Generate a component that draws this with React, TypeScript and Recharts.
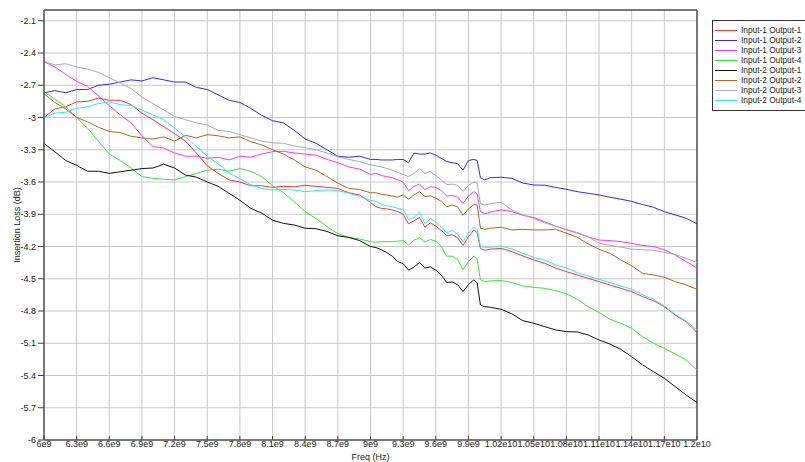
import React from 'react';
import { LineChart, Line, XAxis, YAxis, CartesianGrid, ReferenceLine, Legend } from 'recharts';

const FONT = '"Liberation Sans", Arial, Helvetica, sans-serif';

// Frequency points in GHz (values shown on the axis as Hz)
const freqGHz = [
  6.0, 6.1, 6.2, 6.3, 6.4, 6.5, 6.6, 6.7, 6.8, 6.9, 7.0, 7.1, 7.2, 7.3, 7.4, 7.5, 7.6, 7.7, 7.8, 7.9,
  8.0, 8.1, 8.2, 8.3, 8.4, 8.5, 8.6, 8.7, 8.8, 8.9, 9.0,
  9.05, 9.1, 9.15, 9.2, 9.25, 9.3, 9.35, 9.4, 9.45, 9.5, 9.55, 9.6, 9.65, 9.7, 9.75, 9.8, 9.85, 9.9,
  9.95, 9.98, 10.01, 10.05,
  10.1, 10.2, 10.3, 10.4, 10.5, 10.6, 10.7, 10.8, 10.9, 11.0, 11.1, 11.2, 11.3, 11.4, 11.5, 11.6, 11.7,
  11.8, 11.9, 12.0,
];

const in1out1 = [
  -3.0, -2.92, -2.9, -2.855, -2.85, -2.82, -2.84, -2.84, -2.88, -2.96, -3.02, -3.085, -3.15, -3.22, -3.33, -3.45,
  -3.52, -3.58, -3.6, -3.635, -3.635, -3.65, -3.64, -3.645, -3.63, -3.64, -3.65, -3.66, -3.7, -3.72, -3.79,
  -3.83, -3.845, -3.85, -3.86, -3.875, -3.9, -3.99, -3.96, -3.93, -4.02, -3.98, -4.01, -4.05, -4.1, -4.09, -4.12,
  -4.19, -4.11, -4.045, -4.07, -4.22, -4.235,
  -4.225, -4.217, -4.248, -4.288, -4.325, -4.356, -4.4, -4.434, -4.465, -4.496, -4.527, -4.558, -4.589, -4.62,
  -4.666, -4.704, -4.76, -4.837, -4.9, -5.0,
];

const in1out2 = [
  -2.77, -2.75, -2.77, -2.74, -2.74, -2.7, -2.69, -2.67, -2.65, -2.66, -2.63, -2.65, -2.67, -2.67, -2.72, -2.74,
  -2.79, -2.84, -2.86, -2.915, -2.98, -3.03, -3.05, -3.12, -3.2, -3.24, -3.3, -3.36, -3.37, -3.36, -3.39,
  -3.39, -3.395, -3.395, -3.395, -3.39, -3.39, -3.42, -3.33, -3.34, -3.34, -3.33, -3.35, -3.38, -3.41, -3.42, -3.43,
  -3.49, -3.4, -3.39, -3.4, -3.56, -3.58,
  -3.56, -3.556, -3.566, -3.61, -3.628, -3.63, -3.65, -3.668, -3.69, -3.705, -3.72, -3.742, -3.76, -3.78,
  -3.81, -3.835, -3.876, -3.906, -3.937, -3.99,
];

const in1out3 = [
  -2.48, -2.53, -2.6, -2.665, -2.71, -2.8, -2.89, -2.975, -3.05, -3.17, -3.27, -3.285, -3.33, -3.36, -3.36, -3.38,
  -3.37, -3.395, -3.36, -3.37, -3.34, -3.318, -3.315, -3.33, -3.34, -3.35, -3.39, -3.42, -3.46, -3.48, -3.53,
  -3.52, -3.54, -3.55, -3.56, -3.58, -3.6, -3.68, -3.64, -3.62, -3.67, -3.645, -3.65, -3.68, -3.73, -3.725, -3.74,
  -3.8, -3.73, -3.69, -3.71, -3.875, -3.895,
  -3.88, -3.86, -3.875, -3.91, -3.93, -3.97, -4.01, -4.045, -4.075, -4.11, -4.14, -4.145, -4.155, -4.17,
  -4.19, -4.2, -4.23, -4.28, -4.34, -4.4,
];

const in1out4 = [
  -2.76, -2.83, -2.9, -3.0, -3.1, -3.22, -3.34, -3.4, -3.47, -3.55, -3.565, -3.575, -3.58, -3.55, -3.52, -3.49,
  -3.48, -3.5, -3.475, -3.5, -3.55, -3.635, -3.7, -3.785, -3.875, -3.94, -4.015, -4.08, -4.115, -4.13, -4.155,
  -4.16, -4.155, -4.155, -4.155, -4.15, -4.145, -4.185, -4.14, -4.12, -4.16, -4.135, -4.15, -4.2, -4.29, -4.29, -4.32,
  -4.415, -4.34, -4.29, -4.32, -4.51, -4.527,
  -4.52, -4.517, -4.536, -4.567, -4.58, -4.589, -4.61, -4.64, -4.69, -4.76, -4.815, -4.877, -4.914, -4.961,
  -5.038, -5.1, -5.147, -5.2, -5.256, -5.349,
];

const in2out1 = [
  -3.24, -3.32, -3.4, -3.445, -3.5, -3.5, -3.52, -3.505, -3.49, -3.475, -3.47, -3.435, -3.47, -3.535, -3.555, -3.6,
  -3.64, -3.705, -3.77, -3.845, -3.89, -3.955, -3.985, -4.0, -4.03, -4.035, -4.06, -4.1, -4.115, -4.145, -4.2,
  -4.21, -4.23, -4.257, -4.29, -4.34, -4.36, -4.42, -4.39, -4.35, -4.4, -4.39, -4.42, -4.465, -4.535, -4.53, -4.555,
  -4.62, -4.555, -4.51, -4.54, -4.745, -4.76,
  -4.765, -4.784, -4.827, -4.89, -4.914, -4.945, -4.976, -4.992, -4.995, -5.023, -5.07, -5.107, -5.157, -5.225,
  -5.302, -5.364, -5.426, -5.504, -5.581, -5.652,
];

const in2out2 = [
  -2.78, -2.86, -2.92, -3.0, -3.04, -3.09, -3.13, -3.14, -3.175, -3.19, -3.2, -3.18, -3.22, -3.165, -3.19, -3.16,
  -3.17, -3.19, -3.18, -3.225, -3.255, -3.3, -3.34, -3.395, -3.46, -3.49, -3.55, -3.61, -3.66, -3.67, -3.7,
  -3.7, -3.715, -3.72, -3.73, -3.74, -3.72, -3.76, -3.72, -3.69, -3.735, -3.73, -3.75, -3.78, -3.83, -3.815, -3.83,
  -3.91, -3.85, -3.81, -3.815, -4.03, -4.04,
  -4.03, -4.021, -4.046, -4.04, -4.046, -4.046, -4.04, -4.077, -4.114, -4.176, -4.226, -4.263, -4.325, -4.38,
  -4.45, -4.465, -4.486, -4.527, -4.558, -4.598,
];

const in2out3 = [
  -2.48, -2.51, -2.5, -2.53, -2.55, -2.58, -2.63, -2.68, -2.73, -2.81, -2.87, -2.93, -2.99, -3.02, -3.05, -3.07,
  -3.12, -3.13, -3.16, -3.19, -3.22, -3.235, -3.24, -3.265, -3.28, -3.3, -3.33, -3.365, -3.39, -3.41, -3.44,
  -3.45, -3.46, -3.473, -3.49, -3.51, -3.53, -3.55, -3.52, -3.475, -3.52, -3.505, -3.54, -3.58, -3.625, -3.62, -3.63,
  -3.69, -3.63, -3.6, -3.61, -3.8, -3.815,
  -3.8, -3.79, -3.86, -3.905, -3.94, -3.98, -4.01, -4.04, -4.07, -4.11, -4.17, -4.19, -4.205, -4.225,
  -4.23, -4.235, -4.255, -4.275, -4.31, -4.35,
];

const in2out4 = [
  -3.0, -2.96, -2.95, -2.915, -2.9, -2.87, -2.855, -2.88, -2.89, -2.93, -2.975, -3.02, -3.1, -3.18, -3.27, -3.36,
  -3.43, -3.515, -3.57, -3.625, -3.66, -3.674, -3.67, -3.674, -3.69, -3.68, -3.674, -3.68, -3.705, -3.735, -3.77,
  -3.78, -3.81, -3.82, -3.83, -3.845, -3.86, -3.95, -3.93, -3.88, -3.985, -3.94, -3.97, -4.015, -4.075, -4.05, -4.085,
  -4.155, -4.08, -4.02, -4.04, -4.2, -4.207,
  -4.207, -4.195, -4.225, -4.263, -4.3, -4.325, -4.372, -4.4, -4.443, -4.474, -4.505, -4.536, -4.567, -4.598,
  -4.65, -4.69, -4.753, -4.83, -4.895, -4.976,
];

const seriesNames = [
  'Input-1 Output-1', 'Input-1 Output-2', 'Input-1 Output-3', 'Input-1 Output-4',
  'Input-2 Output-1', 'Input-2 Output-2', 'Input-2 Output-3', 'Input-2 Output-4',
];
const seriesColors = ['#ff3333', '#2a2aff', '#ff33ff', '#33e833', '#111111', '#b8621e', '#aaaaaa', '#22eeee'];
const seriesValues = [in1out1, in1out2, in1out3, in1out4, in2out1, in2out2, in2out3, in2out4];

const xTicks = [6, 6.3, 6.6, 6.9, 7.2, 7.5, 7.8, 8.1, 8.4, 8.7, 9, 9.3, 9.6, 9.9, 10.2, 10.5, 10.8, 11.1, 11.4, 11.7, 12];
const xTickLabels = [
  '6e9', '6.3e9', '6.6e9', '6.9e9', '7.2e9', '7.5e9', '7.8e9', '8.1e9', '8.4e9', '8.7e9', '9e9', '9.3e9', '9.6e9',
  '9.9e9', '1.02e10', '1.05e10', '1.08e10', '1.11e10', '1.14e10', '1.17e10', '1.2e10',
];
const yTicks = [-6, -5.7, -5.4, -5.1, -4.8, -4.5, -4.2, -3.9, -3.6, -3.3, -3, -2.7, -2.4, -2.1];
const yTickLabels = ['-6', '-5.7', '-5.4', '-5.1', '-4.8', '-4.5', '-4.2', '-3.9', '-3.6', '-3.3', '-3', '-2.7', '-2.4', '-2.1'];

const data = freqGHz.map((f, i) => {
  const row: Record<string, number> = { f };
  seriesValues.forEach((vals, s) => {
    row['s' + s] = vals[i];
  });
  return row;
});

const XTick = (props: any) => {
  const { x, y, payload, index } = props;
  let idx = typeof index === 'number' ? index : xTicks.indexOf(payload.value);
  if (xTicks[idx] !== payload.value) idx = xTicks.indexOf(payload.value);
  return (
    <g>
      <line x1={x} x2={x} y1={y - 5} y2={y - 1} stroke="#444" strokeWidth={1} />
      <text x={x} y={y} dy="0.71em" textAnchor="middle" fontSize={9} fill="#222" fontFamily={FONT}>
        {xTickLabels[idx]}
      </text>
    </g>
  );
};

const LegendBox = (props: any) => {
  const payload = props.payload || [];
  return (
    <div
      style={{
        border: '1px solid #333',
        borderRight: 'none',
        background: '#fff',
        width: 93,
        boxSizing: 'border-box',
        padding: '4px 0 5px 2px',
        fontFamily: FONT,
        fontSize: 8.3,
        color: '#222',
        lineHeight: '10px',
      }}
    >
      {payload.map((p: any, i: number) => (
        <div key={i} style={{ display: 'flex', alignItems: 'center', height: 10, whiteSpace: 'nowrap' }}>
          <span style={{ display: 'inline-block', width: 22, height: 0, borderTop: `1.5px solid ${p.color}`, marginRight: 4 }} />
          <span>{p.value}</span>
        </div>
      ))}
    </div>
  );
};

export default function App() {
  return (
    <div style={{ position: 'absolute', left: 0, top: 0, width: 805, height: 462, background: '#fff', overflow: 'hidden' }}>
      <LineChart width={805} height={462} data={data} margin={{ top: 10, right: 108, left: 0, bottom: 0 }}>
        <CartesianGrid stroke="#c8c8c8" strokeWidth={1} />
        <XAxis
          dataKey="f"
          type="number"
          domain={[6, 12]}
          ticks={xTicks}
          interval={0}
          height={22}
          tickSize={0}
          tickMargin={1}
          tick={<XTick />}
          axisLine={{ stroke: '#555', strokeWidth: 1.5 }}
          tickLine={false}
          label={{ value: 'Freq (Hz)', position: 'insideBottom', offset: 2, fontSize: 9, fill: '#222', fontFamily: FONT }}
        />
        <YAxis
          type="number"
          domain={[-6, -2]}
          ticks={yTicks}
          interval={0}
          width={44}
          tickSize={6}
          tickMargin={2}
          tickFormatter={(v: number) => {
            const i = yTicks.indexOf(v);
            return i >= 0 ? yTickLabels[i] : String(v);
          }}
          tick={{ fontSize: 9, fill: '#222', fontFamily: FONT }}
          axisLine={{ stroke: '#555', strokeWidth: 1.5 }}
          tickLine={{ stroke: '#444' }}
          allowDataOverflow
          label={{
            value: 'Insertion Loss (dB)',
            angle: -90,
            position: 'insideLeft',
            offset: 17,
            fontSize: 9,
            fill: '#222',
            fontFamily: FONT,
            style: { textAnchor: 'middle' },
          }}
        />
        <ReferenceLine y={-2} stroke="#555" strokeWidth={1.5} />
        <ReferenceLine x={12} stroke="#555" strokeWidth={1.5} />
        <Legend
          layout="horizontal"
          align="center"
          verticalAlign="middle"
          content={<LegendBox />}
          wrapperStyle={{ left: 712, top: 20, width: 93, height: 'auto' }}
        />
        {seriesNames.map((name, s) => (
          <Line
            key={name}
            type="linear"
            dataKey={'s' + s}
            name={name}
            stroke={seriesColors[s]}
            strokeWidth={1}
            dot={false}
            activeDot={false}
            isAnimationActive={false}
          />
        ))}
      </LineChart>
    </div>
  );
}
